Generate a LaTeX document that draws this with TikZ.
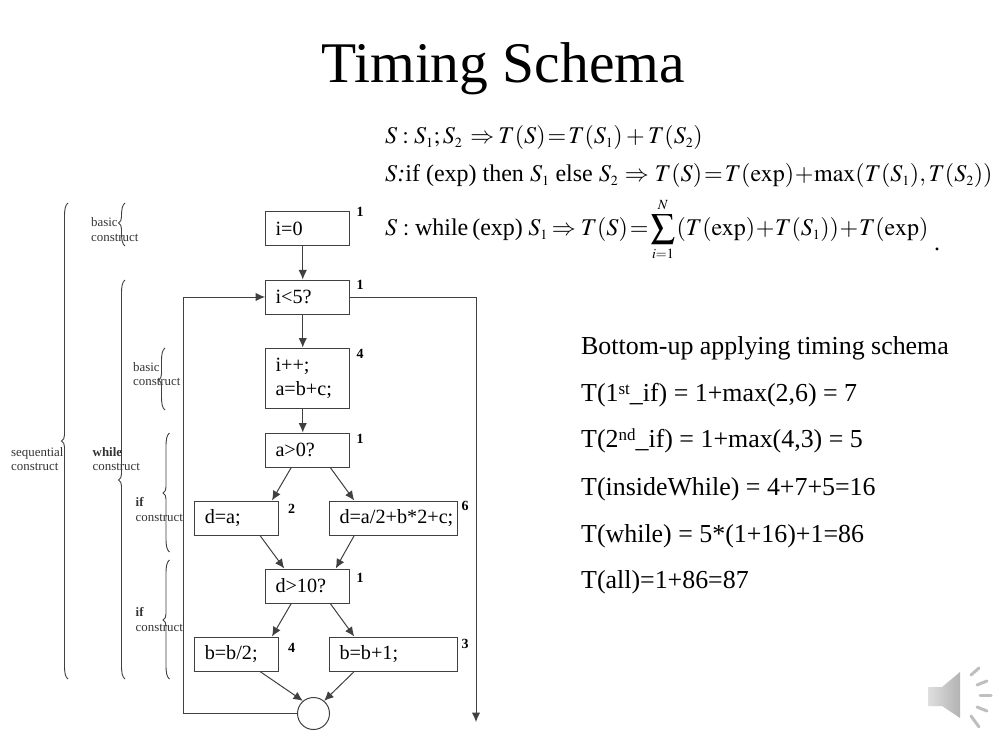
\documentclass[tikz,border=0pt]{standalone}
\usepackage{mathptmx}
\usepackage[no-math]{fontspec}
\setmainfont{Liberation Serif}
\usetikzlibrary{arrows.meta}
\DeclareMathSizes{24}{24}{14}{10}
\definecolor{linegray}{gray}{0.25}
\newcommand{\bracel}[4]{% x of the bar, top, tip, bottom
  \draw[bracestyle] (#1+3.5,#2) .. controls (#1+0.8,#2+2) and (#1,#2+6) .. (#1,#2+14)
    -- (#1,#3-6) .. controls (#1,#3-3) and (#1-1,#3-1) .. (#1-3,#3)
    .. controls (#1-1,#3+1) and (#1,#3+3) .. (#1,#3+6)
    -- (#1,#4-14) .. controls (#1,#4-6) and (#1+0.8,#4-2) .. (#1+3.5,#4);
}
\newcommand{\supt}[1]{\raisebox{7pt}{\fontsize{17}{17}\selectfont #1}}
\tikzset{
  flowbox/.style={draw=linegray,line width=1pt,align=left,inner xsep=10pt,inner ysep=0pt,
    minimum height=34pt,font=\fontsize{20.2}{24}\selectfont},
  shortbox/.style={flowbox,text width=63.5pt},
  widebox/.style={flowbox,text width=107.5pt},
  cost/.style={font=\fontsize{14}{15}\selectfont\bfseries,inner sep=0pt},
  side/.style={anchor=west,align=left,inner sep=0pt,text=black!80,font=\fontsize{12.9}{14.5}\selectfont},
  formula/.style={anchor=base west,inner sep=0pt,font=\fontsize{24}{26}\selectfont},
  rule/.style={anchor=base west,inner sep=0pt,font=\fontsize{25.9}{30}\selectfont},
  bracestyle/.style={draw=linegray,line width=0.9pt},
  flow/.style={draw=linegray,line width=1pt,->}
}
\begin{document}
\begin{tikzpicture}[x=1pt,y=-1pt,>={Latex[length=9.5pt,width=8.5pt]}]
  \useasboundingbox (0,0) rectangle (1006,743);
  \thickmuskip=1.5mu
  \medmuskip=0.5mu

  \node[anchor=base,inner sep=0pt,font=\fontsize{57.5}{60}\selectfont] (title) at (503,82.5) {Timing Schema};

  \node[formula] (eqseq) at (385,144) {$S\mkern3.75mu{:}\mkern3.75mu S_1;S_2\mkern4.5mu\Rightarrow\;T(S)=T(S_1)\mkern2mu+\mkern2mu T(S_2)$};
  \node[formula] (eqif) at (385,181.5) {$S$\textit{:}if (exp) then $S_1$ else $S_2\mkern3.5mu\Rightarrow\mkern3mu T(S)=T(\mathrm{exp})+\max(T(S_1),T(S_2))$};
  \node[formula] (eqwhile) at (385,235.5) {$S\mkern4.1mu{:}\mkern4.1mu$while\,(exp)$\mkern4mu S_1\;\Rightarrow\mkern2.25mu T(S)=\displaystyle\sum_{i=1}^{N}\mkern1mu(T(\mathrm{exp})+T(S_1))+T(\mathrm{exp})$};
  \node[formula] (eqdot) at (934,251) {.};

  \node[rule] (r0) at (581,354) {Bottom-up applying timing schema};
  \node[rule] (r1) at (581,401) {T(1\supt{st}\_if) = 1+max(2,6) = 7};
  \node[rule] (r2) at (581,447) {T(2\supt{nd}\_if) = 1+max(4,3) = 5};
  \node[rule] (r3) at (581,495) {T(insideWhile) = 4+7+5=16};
  \node[rule] (r4) at (581,542) {T(while) = 5*(1+16)+1=86};
  \node[rule] (r5) at (581,588) {T(all)=1+86=87};

  \node[shortbox] (init) at (307.25,229) {i=0};
  \node[shortbox] (test) at (307.25,297) {i<5?};
  \node[shortbox,minimum height=60pt] (incr) at (307.25,378) {i++;\\a=b+c;};
  \node[shortbox] (ifa) at (307.25,450) {a>0?};
  \node[shortbox] (da) at (236.5,518) {d=a;};
  \node[widebox] (dcalc) at (393.25,518) {d=a/2+b*2+c;};
  \node[shortbox] (ifd) at (307.25,586) {d>10?};
  \node[shortbox] (bhalf) at (236.5,654) {b=b/2;};
  \node[widebox] (binc) at (393.25,654) {b=b+1;};
  \node[draw=linegray,line width=1pt,circle,minimum size=32pt,inner sep=0pt] (join) at (313.5,713.5) {};
  \coordinate (back) at (183,713.5);
  \coordinate (up) at (183,297);
  \coordinate (right) at (476,297);
  \coordinate (exit) at (476,722);

  \node[cost] (c1) at (360,212) {1};
  \node[cost] (c2) at (360,285) {1};
  \node[cost] (c3) at (360,354) {4};
  \node[cost] (c4) at (360,439) {1};
  \node[cost] (c5) at (291.5,509) {2};
  \node[cost] (c6) at (465,506) {6};
  \node[cost] (c7) at (360,578) {1};
  \node[cost] (c8) at (291.5,648) {4};
  \node[cost] (c9) at (465,644) {3};

  \path[flow] ([xshift=-4.5pt]init.south) -- ([xshift=-4.5pt]test.north);
  \path[flow] ([xshift=-4.5pt]test.south) -- ([xshift=-4.5pt]incr.north);
  \path[flow] ([xshift=-4.5pt]incr.south) -- ([xshift=-4.5pt]ifa.north);
  \path[flow] ([xshift=-16pt]ifa.south) -- ([xshift=35.5pt]da.north);
  \path[flow] ([xshift=23pt]ifa.south) -- ([xshift=-39pt]dcalc.north);
  \path[flow] ([xshift=23.5pt]da.south) -- ([xshift=-23pt]ifd.north);
  \path[flow] ([xshift=-39pt]dcalc.south) -- ([xshift=28.5pt]ifd.north);
  \path[flow] ([xshift=-16pt]ifd.south) -- ([xshift=35.5pt]bhalf.north);
  \path[flow] ([xshift=23pt]ifd.south) -- ([xshift=-39pt]binc.north);
  \path[flow] ([xshift=23.5pt]bhalf.south) -- (join.130);
  \path[flow] ([xshift=-39pt]binc.south) -- (join.50);
  \path[flow] (join.west) -- (back) -- (up) -- (test.west);
  \path[flow] (test.east) -- (right) -- (exit);

  \bracel{64.5}{203}{441}{679}
  \bracel{121.5}{203}{223}{246}
  \bracel{121.5}{280}{480}{679}
  \bracel{161.5}{348}{380}{410}
  \bracel{166}{433}{493}{552}
  \bracel{166}{560}{620}{679}

  \node[side] (seq) at (11,459) {sequential\\construct};
  \node[side] (bas1) at (91,229.5) {basic\\construct};
  \node[side] (whl) at (92.5,459) {\textbf{while}\\construct};
  \node[side] (bas2) at (133,374) {basic\\construct};
  \node[side] (if1) at (135.5,509.5) {\textbf{if}\\construct};
  \node[side] (if2) at (135.5,619.5) {\textbf{if}\\construct};

  \shade[left color=gray!25,right color=gray!60] (928,687) -- (942,687) -- (960,672) -- (960,718) -- (942,706) -- (928,706) -- cycle;
  \draw[gray!50,line width=3pt,line cap=round] (971,675) -- (979,668);
  \draw[gray!50,line width=3pt,line cap=round] (977,685) -- (987,681);
  \draw[gray!50,line width=3pt,line cap=round] (980,695) -- (991,695);
  \draw[gray!50,line width=3pt,line cap=round] (977,707) -- (987,711);
  \draw[gray!50,line width=3pt,line cap=round] (971,716) -- (979,727);
\end{tikzpicture}
\end{document}
